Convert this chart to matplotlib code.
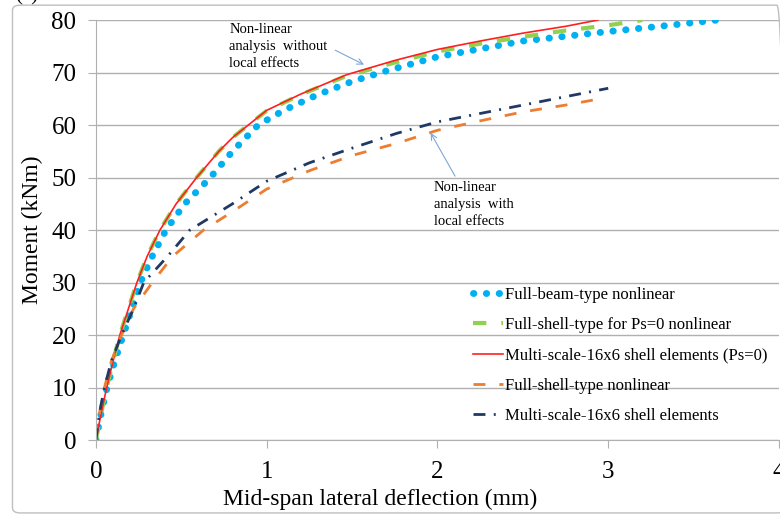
import matplotlib.pyplot as plt
from matplotlib.patches import FancyBboxPatch

plt.rcParams['font.family'] = ['Liberation Serif', 'DejaVu Serif']

# Full-beam-type nonlinear
beam_x = [0, 0.03, 0.065, 0.11, 0.16, 0.21, 0.26, 0.33, 0.41, 0.52, 0.67, 0.8, 0.95,
          1.1, 1.3, 1.5, 1.7, 2.0, 2.5, 3.0, 3.3, 3.64]
beam_y = [0, 5, 10, 15, 20, 25, 30, 35, 40, 45, 50, 55, 60,
          62.8, 65.8, 68.3, 70.3, 73, 76, 77.8, 78.8, 80]

# Full-shell-type for Ps=0 nonlinear
shell0_x = [0, 0.03, 0.063, 0.10, 0.14, 0.19, 0.24, 0.30, 0.375, 0.47, 0.59, 0.72, 0.8, 0.9,
            1.0, 1.2, 1.47, 1.75, 2.0, 2.25, 2.5, 2.75, 3.0, 3.2]
shell0_y = [0, 5, 10, 15, 20, 25, 30, 35, 40, 45, 50, 55, 57.6, 60.2,
            62.7, 65.8, 69.4, 71.9, 74, 75.5, 76.8, 78, 79, 80]

# Multi-scale-16x6 shell elements (Ps=0)
multi0_x = [0, 0.03, 0.063, 0.10, 0.14, 0.19, 0.24, 0.30, 0.375, 0.47, 0.59, 0.72, 0.8, 0.9,
            1.0, 1.2, 1.47, 1.75, 2.0, 2.25, 2.5, 2.75, 2.94]
multi0_y = [0, 5, 10, 15, 20, 25, 30, 35, 40, 45, 50, 55, 57.6, 60.2,
            62.8, 65.9, 69.6, 72.3, 74.4, 76, 77.5, 78.8, 80]

# Full-shell-type nonlinear
shell_x = [0, 0.02, 0.05, 0.09, 0.15, 0.22, 0.33, 0.45, 0.63, 0.8, 1.0, 1.25, 1.5,
           1.76, 2.0, 2.25, 2.5, 2.75, 2.97]
shell_y = [0, 5, 10, 15, 20, 25, 30, 35, 40, 43.5, 47.8, 51.3, 54.2,
           56.5, 59, 60.8, 62.5, 63.8, 65.1]

# Multi-scale-16x6 shell elements
multi_x = [0, 0.02, 0.05, 0.09, 0.15, 0.22, 0.28, 0.42, 0.55, 0.8, 1.0, 1.25, 1.5,
           1.76, 2.0, 2.25, 2.5, 2.75, 3.0]
multi_y = [0, 5, 10, 15, 20, 25, 30, 35, 40, 45, 49.3, 52.8, 55.6,
           58.4, 60.6, 62.2, 63.8, 65.4, 67]

fig = plt.figure(figsize=(7.8, 5.15), dpi=100)
ax = fig.add_axes([0.123, 0.1456, 0.8757, 0.8155])

# outer frame
fig.patches.append(FancyBboxPatch((0.016, 0.004), 0.99, 0.986,
                                  boxstyle='round,pad=0,rounding_size=0.01',
                                  transform=fig.transFigure, fill=False,
                                  edgecolor='#bfbfbf', linewidth=1.0))
fig.text(0.02, 1.008, '(a)', fontsize=15, va='center')

ax.plot(beam_x, beam_y, color='#00b0f0', lw=5, linestyle=(0, (0.05, 1.8)),
        dash_capstyle='round', label='Full-beam-type nonlinear')
ax.plot(shell0_x, shell0_y, color='#92d050', lw=3, linestyle=(0, (3.2, 3.6)),
        label='Full-shell-type for Ps=0 nonlinear')
ax.plot(multi0_x, multi0_y, color='#ff1f1f', lw=1.2,
        label='Multi-scale-16x6 shell elements (Ps=0)')
ax.plot(shell_x, shell_y, color='#ed7d31', lw=2.0, linestyle=(0, (4.3, 5.0)),
        label='Full-shell-type nonlinear')
ax.plot(multi_x, multi_y, color='#1f3864', lw=2.0, linestyle=(0, (4.3, 3, 0.7, 3)),
        label='Multi-scale-16x6 shell elements')

ax.set_xlim(0, 4)
ax.set_ylim(0, 80)
ax.set_xticks([0, 1, 2, 3, 4])
ax.set_yticks(range(0, 81, 10))
ax.yaxis.grid(True, color='#b0b0b0', lw=1.0)
ax.set_axisbelow(True)
for s in ['top', 'right']:
    ax.spines[s].set_visible(False)
for s in ['left', 'bottom']:
    ax.spines[s].set_color('#b0b0b0')
ax.tick_params(axis='both', colors='#b0b0b0', labelcolor='black', labelsize=18, length=6)
ax.tick_params(axis='y', pad=8)
ax.tick_params(axis='x', pad=9)
ax.set_xlabel('Mid-span lateral deflection (mm)', fontsize=17, labelpad=3)
ax.xaxis.set_label_coords(0.416, -0.115)
ax.set_ylabel('Moment (kNm)', fontsize=17, labelpad=6)

ax.annotate('Non-linear\nanalysis  without\nlocal effects', xy=(1.57, 71.5), xytext=(0.78, 75),
            fontsize=10.5, va='center', ha='left', linespacing=1.4,
            arrowprops=dict(arrowstyle='->', color='#7fa7d6', lw=0.8,
                            shrinkA=4, shrinkB=0, relpos=(1.0, 0.5)))
ax.annotate('Non-linear\nanalysis  with\nlocal effects', xy=(1.96, 58.5), xytext=(1.98, 44.8),
            fontsize=10.5, va='center', ha='left', linespacing=1.4,
            arrowprops=dict(arrowstyle='->', color='#7fa7d6', lw=0.8,
                            shrinkA=2, shrinkB=0, relpos=(0.3, 1.0)))

ax.legend(loc='upper left', bbox_to_anchor=(0.542, 0.38), frameon=False, fontsize=12,
          handlelength=1.8, handletextpad=0.15, labelspacing=0.85, borderaxespad=0)

fig.savefig('out.png', dpi=100)
